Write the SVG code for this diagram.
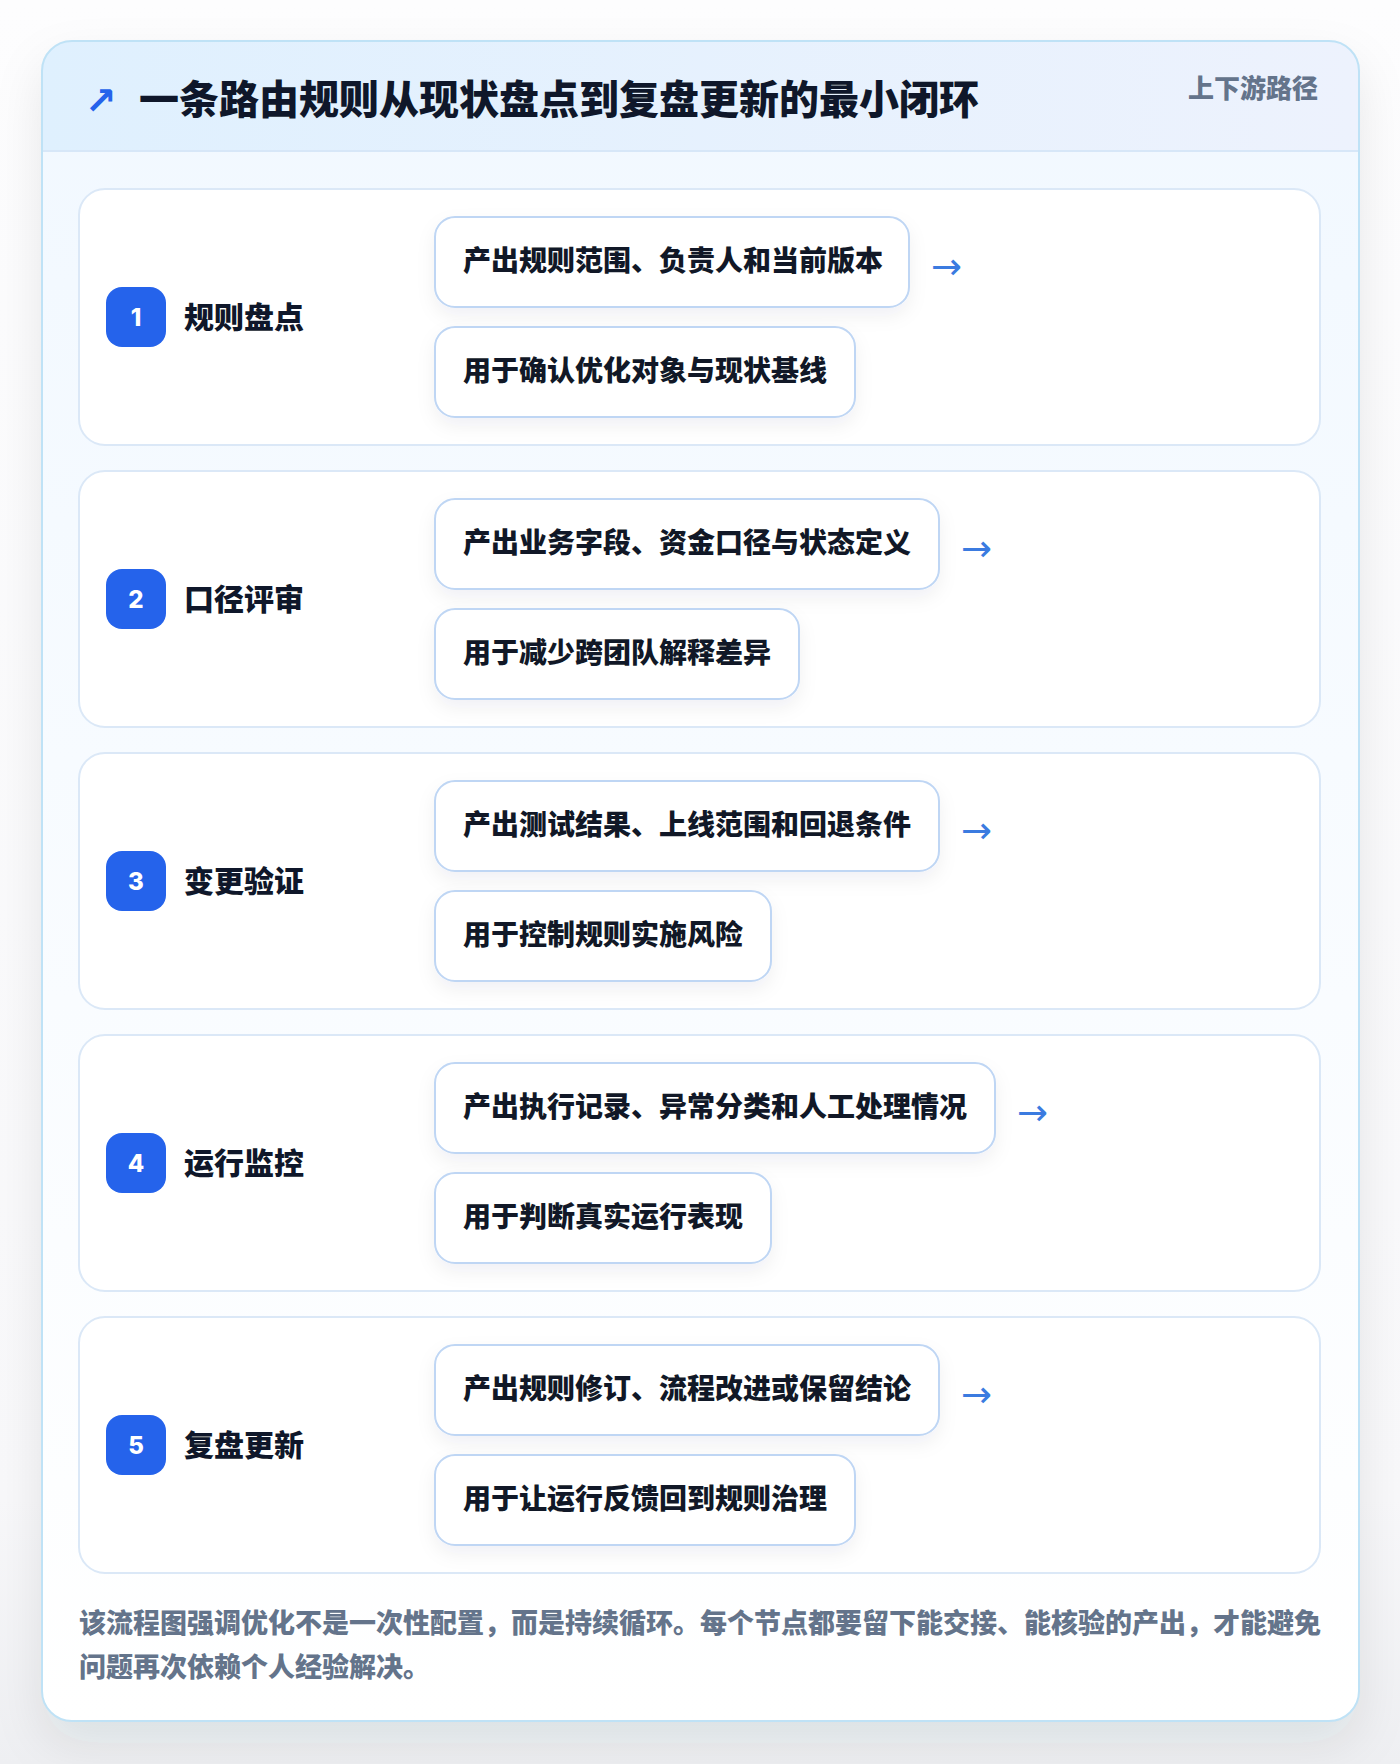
<svg xmlns="http://www.w3.org/2000/svg" width="1400" height="1764" viewBox="0 0 1400 1764">
  <defs>
    <linearGradient id="pageBg" x1="0" y1="0" x2="0" y2="1">
      <stop offset="0" stop-color="#fdfdfe"/>
      <stop offset="0.85" stop-color="#f8f8fa"/>
      <stop offset="1" stop-color="#eeeff2"/>
    </linearGradient>
    <linearGradient id="headBg" x1="0" y1="0" x2="1" y2="0">
      <stop offset="0" stop-color="#dff0fe"/>
      <stop offset="1" stop-color="#edf2fd"/>
    </linearGradient>
    <linearGradient id="bodyBg" x1="0" y1="0" x2="0" y2="1">
      <stop offset="0" stop-color="#f1f8ff"/>
      <stop offset="1" stop-color="#ffffff"/>
    </linearGradient>
    <clipPath id="cardClip">
      <rect x="42" y="41" width="1317" height="1680" rx="30"/>
    </clipPath>
    <filter id="cardShadow" x="-10%" y="-10%" width="120%" height="120%">
      <feDropShadow dx="0" dy="22" stdDeviation="24" flood-color="#1e293b" flood-opacity="0.09"/>
    </filter>
    <filter id="boxShadow" x="-10%" y="-30%" width="120%" height="170%">
      <feDropShadow dx="0" dy="8" stdDeviation="9" flood-color="#1e293b" flood-opacity="0.06"/>
    </filter>
    <style>
      .cjk { font-family: "Noto Sans CJK SC", "Noto Sans", sans-serif; font-weight: 900; }
      .title { font-size: 40px; fill: #0f172a; }
      .tag { font-size: 26px; fill: #64748b; }
      .stage { fill: #ffffff; stroke: #dbe8f7; stroke-width: 2; }
      .badge { fill: #2563eb; }
      .num { font-family: "Inter", "Noto Sans", sans-serif; font-weight: 800; font-size: 24px; fill: #ffffff; text-anchor: middle; }
      .stitle { font-size: 30px; fill: #0f172a; }
      .box { fill: #ffffff; stroke: #bfd6f4; stroke-width: 2; }
      .btext { font-size: 28px; fill: #111827; }
      .arrow { font-family: "DejaVu Sans", sans-serif; font-size: 37px; fill: #3b7be0; }
      .icon { font-family: "DejaVu Sans", sans-serif; font-size: 38px; font-weight: 700; fill: #2563eb; }
      .note { font-size: 27px; fill: #64748b; }
    </style>
  </defs>

  <rect x="0" y="0" width="1400" height="1764" fill="url(#pageBg)"/>

  <g id="card">
    <rect x="42" y="41" width="1317" height="1680" rx="30" fill="#ffffff" filter="url(#cardShadow)"/>
    <g clip-path="url(#cardClip)">
      <rect x="42" y="41" width="1317" height="1680" fill="url(#bodyBg)"/>
      <rect x="42" y="41" width="1317" height="110" fill="url(#headBg)"/>
      <line x1="42" y1="151" x2="1359" y2="151" stroke="#d7e7f8" stroke-width="2"/>
    </g>
    <rect x="42" y="41" width="1317" height="1680" rx="30" fill="none" stroke="#bfe2f6" stroke-width="2"/>
  </g>

  <g id="header">
    <text x="85" y="114" class="icon">↗</text>
    <text x="139" y="114" class="cjk title">一条路由规则从现状盘点到复盘更新的最小闭环</text>
    <text x="1318" y="98" class="cjk tag" text-anchor="end">上下游路径</text>
  </g>

  <g id="stage1">
    <rect x="79" y="189" width="1241" height="256" rx="26" class="stage"/>
    <rect x="106" y="287" width="60" height="60" rx="16" class="badge"/>
    <text x="136" y="326" class="num">1</text>
    <text x="184" y="328" class="cjk stitle">规则盘点</text>
    <rect x="435" y="217" width="474" height="90" rx="20" class="box" filter="url(#boxShadow)"/>
    <text x="463" y="271" class="cjk btext">产出规则范围、负责人和当前版本</text>
    <rect x="435" y="327" width="420" height="90" rx="20" class="box" filter="url(#boxShadow)"/>
    <text x="463" y="381" class="cjk btext">用于确认优化对象与现状基线</text>
  </g>

  <g id="stage2">
    <rect x="79" y="471" width="1241" height="256" rx="26" class="stage"/>
    <rect x="106" y="569" width="60" height="60" rx="16" class="badge"/>
    <text x="136" y="608" class="num">2</text>
    <text x="184" y="610" class="cjk stitle">口径评审</text>
    <rect x="435" y="499" width="504" height="90" rx="20" class="box" filter="url(#boxShadow)"/>
    <text x="463" y="553" class="cjk btext">产出业务字段、资金口径与状态定义</text>
    <rect x="435" y="609" width="364" height="90" rx="20" class="box" filter="url(#boxShadow)"/>
    <text x="463" y="663" class="cjk btext">用于减少跨团队解释差异</text>
  </g>

  <g id="stage3">
    <rect x="79" y="753" width="1241" height="256" rx="26" class="stage"/>
    <rect x="106" y="851" width="60" height="60" rx="16" class="badge"/>
    <text x="136" y="890" class="num">3</text>
    <text x="184" y="892" class="cjk stitle">变更验证</text>
    <rect x="435" y="781" width="504" height="90" rx="20" class="box" filter="url(#boxShadow)"/>
    <text x="463" y="835" class="cjk btext">产出测试结果、上线范围和回退条件</text>
    <rect x="435" y="891" width="336" height="90" rx="20" class="box" filter="url(#boxShadow)"/>
    <text x="463" y="945" class="cjk btext">用于控制规则实施风险</text>
  </g>

  <g id="stage4">
    <rect x="79" y="1035" width="1241" height="256" rx="26" class="stage"/>
    <rect x="106" y="1133" width="60" height="60" rx="16" class="badge"/>
    <text x="136" y="1172" class="num">4</text>
    <text x="184" y="1174" class="cjk stitle">运行监控</text>
    <rect x="435" y="1063" width="560" height="90" rx="20" class="box" filter="url(#boxShadow)"/>
    <text x="463" y="1117" class="cjk btext">产出执行记录、异常分类和人工处理情况</text>
    <rect x="435" y="1173" width="336" height="90" rx="20" class="box" filter="url(#boxShadow)"/>
    <text x="463" y="1227" class="cjk btext">用于判断真实运行表现</text>
  </g>

  <g id="stage5">
    <rect x="79" y="1317" width="1241" height="256" rx="26" class="stage"/>
    <rect x="106" y="1415" width="60" height="60" rx="16" class="badge"/>
    <text x="136" y="1454" class="num">5</text>
    <text x="184" y="1456" class="cjk stitle">复盘更新</text>
    <rect x="435" y="1345" width="504" height="90" rx="20" class="box" filter="url(#boxShadow)"/>
    <text x="463" y="1399" class="cjk btext">产出规则修订、流程改进或保留结论</text>
    <rect x="435" y="1455" width="420" height="90" rx="20" class="box" filter="url(#boxShadow)"/>
    <text x="463" y="1509" class="cjk btext">用于让运行反馈回到规则治理</text>
  </g>

  <g id="connectors">
    <text x="931" y="279" class="arrow">→</text>
    <text x="961" y="561" class="arrow">→</text>
    <text x="961" y="843" class="arrow">→</text>
    <text x="1017" y="1125" class="arrow">→</text>
    <text x="961" y="1407" class="arrow">→</text>
  </g>

  <g id="note">
    <text x="79" y="1633" class="cjk note">该流程图强调优化不是一次性配置，而是持续循环。每个节点都要留下能交接、能核验的产出，才能避免</text>
    <text x="79" y="1677" class="cjk note">问题再次依赖个人经验解决。</text>
  </g>
</svg>
